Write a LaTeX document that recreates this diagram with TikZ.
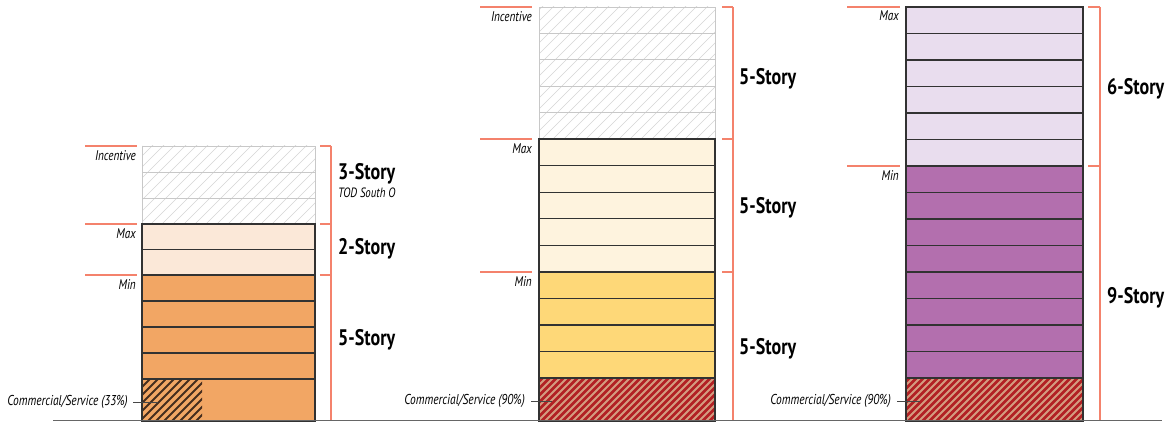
\documentclass[tikz,border=0pt]{standalone}
\usepackage{fontspec}
\newfontfamily\notefont[FakeStretch=0.80]{PT Sans}
\newfontfamily\storyfont[FakeStretch=0.80]{PT Sans}
\begin{document}
\definecolor{bracket}{RGB}{244,130,108}
\definecolor{edge}{RGB}{50,50,50}
\definecolor{incedge}{RGB}{200,200,200}
\definecolor{inchatch}{RGB}{212,212,212}
\definecolor{orangeMin}{RGB}{242,166,100}
\definecolor{orangeMax}{RGB}{251,232,216}
\definecolor{yellowMin}{RGB}{254,216,120}
\definecolor{yellowMax}{RGB}{254,243,222}
\definecolor{purpleMin}{RGB}{179,111,174}
\definecolor{purpleMax}{RGB}{233,221,238}
\definecolor{shopred}{RGB}{178,32,36}
\definecolor{shopstripe}{RGB}{212,156,128}
\definecolor{shopdark}{RGB}{70,45,30}
\begin{tikzpicture}[x=1pt,y=-1pt,
  floor/.style={draw=edge,line width=1.1pt},
  incfloor/.style={draw=incedge,line width=0.9pt},
  tick/.style={draw=bracket,line width=1.1pt},
  levellabel/.style={anchor=east,inner sep=0pt,font=\notefont\itshape\fontsize{14}{14}\selectfont},
  storylabel/.style={anchor=west,inner sep=0pt,font=\storyfont\bfseries\fontsize{22.5}{22.5}\selectfont},
  shoplabel/.style={anchor=east,inner sep=0pt,font=\notefont\itshape\fontsize{14.3}{14.3}\selectfont},
  leader/.style={draw=edge!90,line width=0.8pt}]
\useasboundingbox (0,0) rectangle (1167,422);

% ---------- incentive (hatched, light) floors ----------
\begin{scope}
  \clip (142,146) rectangle (315,224);
  \foreach \k in {0,11,...,280} \draw[inchatch,line width=0.6pt] ({142-90+\k},224) -- ++(90,-90);
\end{scope}
\foreach \i in {0,1,2} \draw[incfloor] (142,{146+\i*26}) rectangle (315,{146+(\i+1)*26});

\begin{scope}
  \clip (539,7) rectangle (715,139);
  \foreach \k in {0,11,...,330} \draw[inchatch,line width=0.6pt] ({539-140+\k},139) -- ++(140,-140);
\end{scope}
\foreach \i in {0,...,4} \draw[incfloor] (539,{7+\i*26.4}) rectangle (715,{7+(\i+1)*26.4});

% ---------- left building ----------
\foreach \i in {0,1} \draw[floor,fill=orangeMax] (142,{224+\i*25.5}) rectangle (315,{224+(\i+1)*25.5});
\foreach \i in {0,...,3} \draw[floor,fill=orangeMin] (142,{275+\i*26}) rectangle (315,{275+(\i+1)*26});
\draw[floor,fill=orangeMin] (142,379) rectangle (315,421);
\begin{scope}
  \clip (142,379) rectangle (202,421);
  \foreach \k in {0,8,...,110} \draw[shopdark,line width=1.8pt] ({142-50+\k},421) -- ++(50,-50);
\end{scope}
\draw[floor] (142,379) rectangle (315,421);

% ---------- middle building ----------
\foreach \i in {0,...,4} \draw[floor,fill=yellowMax] (539,{139+\i*26.6}) rectangle (715,{139+(\i+1)*26.6});
\foreach \i in {0,...,3} \draw[floor,fill=yellowMin] (539,{272+\i*26.5}) rectangle (715,{272+(\i+1)*26.5});
\fill[shopred] (539,378) rectangle (715,421);
\begin{scope}
  \clip (539,378) rectangle (715,421);
  \foreach \k in {0,7,...,230} \draw[shopstripe,line width=2pt] ({539-50+\k},421) -- ++(50,-50);
\end{scope}
\draw[floor] (539,378) rectangle (715,421);

% ---------- right building ----------
\foreach \i in {0,...,5} \draw[floor,fill=purpleMax] (906,{7+\i*26.5}) rectangle (1083,{7+(\i+1)*26.5});
\foreach \i in {0,...,7} \draw[floor,fill=purpleMin] (906,{166+\i*26.5}) rectangle (1083,{166+(\i+1)*26.5});
\fill[shopred] (906,378) rectangle (1083,421);
\begin{scope}
  \clip (906,378) rectangle (1083,421);
  \foreach \k in {0,7,...,230} \draw[shopstripe,line width=2pt] ({906-50+\k},421) -- ++(50,-50);
\end{scope}
\draw[floor] (906,378) rectangle (1083,421);

% ---------- ground ----------
\draw[gray!80!black,line width=1.2pt] (53,420.5) -- (1162,420.5);

% ---------- level ticks and labels ----------
\foreach \y in {146,224,275} \draw[tick] (85,\y) -- (137,\y);
\foreach \y in {7,139,272} \draw[tick] (480,\y) -- (532,\y);
\foreach \y in {7,166} \draw[tick] (847,\y) -- (900,\y);

\node[levellabel] (incA) at (136,156) {Incentive};
\node[levellabel] (maxA) at (136,234) {Max};
\node[levellabel] (minA) at (136,285) {Min};
\node[levellabel] (incB) at (532,17) {Incentive};
\node[levellabel] (maxB) at (532,149) {Max};
\node[levellabel] (minB) at (532,282) {Min};
\node[levellabel] (maxC) at (899,16) {Max};
\node[levellabel] (minC) at (899,176) {Min};

% ---------- story brackets ----------
\draw[tick] (331,146) -- (331,420);
\foreach \y in {146,224,275} \draw[tick] (320,\y) -- (331,\y);
\draw[tick] (733,7) -- (733,420);
\foreach \y in {7,139,272} \draw[tick] (722,\y) -- (733,\y);
\draw[tick] (1100,7) -- (1100,420);
\foreach \y in {7,166} \draw[tick] (1088,\y) -- (1100,\y);

\node[storylabel] (stA1) at (338,174) {3-Story};
\begin{scope}
  \clip (330,182) rectangle (395,206);
  \node[levellabel,anchor=west,font=\notefont\itshape\fontsize{13.5}{13.5}\selectfont] (tod) at (338,194) {TOD South Overlay};
\end{scope}
\node[storylabel] (stA2) at (338,249) {2-Story};
\node[storylabel] (stA3) at (338,340) {5-Story};
\node[storylabel] (stB1) at (739,79) {5-Story};
\node[storylabel] (stB2) at (739,208) {5-Story};
\node[storylabel] (stB3) at (739,349) {5-Story};
\node[storylabel] (stC1) at (1107,89) {6-Story};
\node[storylabel] (stC2) at (1107,298) {9-Story};

% ---------- commercial callouts ----------
\node[shoplabel] (shopA) at (128,402) {Commercial/Service (33\%)};
\coordinate (shopAend) at (158,402);
\draw[leader] ([xshift=5pt]shopA.east) -- (shopAend);
\node[shoplabel] (shopB) at (525,401) {Commercial/Service (90\%)};
\coordinate (shopBend) at (552,401);
\draw[leader] ([xshift=6pt]shopB.east) -- (shopBend);
\node[shoplabel] (shopC) at (891,401) {Commercial/Service (90\%)};
\coordinate (shopCend) at (920,401);
\draw[leader] ([xshift=6pt]shopC.east) -- (shopCend);
\end{tikzpicture}
\end{document}
